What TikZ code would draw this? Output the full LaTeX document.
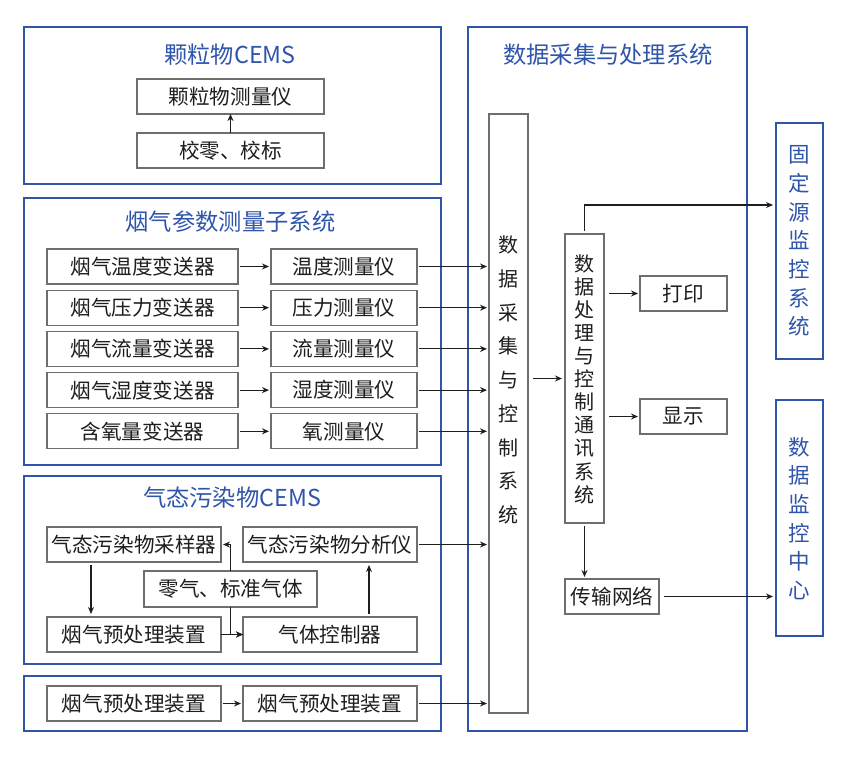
\documentclass[tikz,border=0pt]{standalone}
\usepackage{fontspec}
\setmainfont{Noto Sans CJK SC}
\usetikzlibrary{arrows.meta}
\definecolor{cblue}{RGB}{47,85,170}
\definecolor{cgray}{RGB}{110,110,110}
\definecolor{ctext}{RGB}{30,30,30}
\begin{document}
\begin{tikzpicture}[x=1pt,y=-1pt,
  group/.style={draw=cblue, line width=2.2pt, inner sep=0pt, outer sep=0pt},
  grouptitle/.style={text=cblue, font=\fontsize{23.3}{26}\selectfont, inner sep=0pt},
  box/.style={draw=cgray, line width=1.1pt, fill=white, text=ctext, inner sep=0pt, outer sep=0pt,
              font=\fontsize{20.6}{24}\selectfont},
  vtext/.style={align=center, inner sep=0pt, text=ctext},
  arr/.style={-{Stealth[length=7pt,width=6pt]}, line width=1.1pt, draw=ctext},
]
\useasboundingbox (0,0) rectangle (850,763);

% ---------- group frames ----------
\node[group, minimum width=417pt, minimum height=157pt] (g1) at (232.5,105.5) {};
\node[group, minimum width=417pt, minimum height=267pt] (g2) at (232.5,331.5) {};
\node[group, minimum width=417pt, minimum height=188pt] (g3) at (232.5,570) {};
\node[group, minimum width=417pt, minimum height=55pt]  (g4) at (232.5,703.5) {};
\node[group, minimum width=279pt, minimum height=704pt] (g5) at (607.5,379) {};
\node[group, minimum width=47pt, minimum height=236pt] (fixed) at (799.5,241) {};
\node[group, minimum width=47pt, minimum height=236pt] (center) at (799.5,518) {};

% ---------- titles ----------
\node[grouptitle] (t1) at (230,55) {颗粒物CEMS};
\node[grouptitle] (t2) at (230.5,222) {烟气参数测量子系统};
\node[grouptitle] (t3) at (232,498) {气态污染物CEMS};
\node[grouptitle] (t5) at (608,55) {数据采集与处理系统};

\node[vtext, text=cblue, font=\fontsize{21.5}{28.7}\selectfont] (fixedtxt) at (799.5,241) {固\\定\\源\\监\\控\\系\\统};
\node[vtext, text=cblue, font=\fontsize{21.5}{28.6}\selectfont] (centertxt) at (799.5,518.5) {数\\据\\监\\控\\中\\心};

% ---------- particulate CEMS ----------
\node[box, minimum width=187pt, minimum height=35pt] (b11) at (230.5,96.5) {颗粒物测量仪};
\node[box, minimum width=187pt, minimum height=35pt] (b12) at (230.5,150.5) {校零、校标};
\draw[arr] (b12.north) -- (b11.south);

% ---------- flue gas parameter subsystem ----------
\node[box, minimum width=191pt, minimum height=35pt] (l1) at (142.5,266.5) {烟气温度变送器};
\node[box, minimum width=191pt, minimum height=35pt] (l2) at (142.5,307.7) {烟气压力变送器};
\node[box, minimum width=191pt, minimum height=35pt] (l3) at (142.5,348.9) {烟气流量变送器};
\node[box, minimum width=191pt, minimum height=35pt] (l4) at (142.5,390.1) {烟气湿度变送器};
\node[box, minimum width=191pt, minimum height=35pt] (l5) at (142.5,431.3) {含氧量变送器};
\node[box, minimum width=146pt, minimum height=35pt] (r1) at (344,266.5) {温度测量仪};
\node[box, minimum width=146pt, minimum height=35pt] (r2) at (344,307.7) {压力测量仪};
\node[box, minimum width=146pt, minimum height=35pt] (r3) at (344,348.9) {流量测量仪};
\node[box, minimum width=146pt, minimum height=35pt] (r4) at (344,390.1) {湿度测量仪};
\node[box, minimum width=146pt, minimum height=35pt] (r5) at (344,431.3) {氧测量仪};

% ---------- data acquisition boxes ----------
\node[box, minimum width=39pt, minimum height=599pt] (acq) at (508.5,413.5) {};
\node[vtext, font=\fontsize{20}{33.75}\selectfont] (acqtxt) at (508.5,380) {数\\据\\采\\集\\与\\控\\制\\系\\统};
\node[box, minimum width=39pt, minimum height=289pt] (proc) at (584.5,378.5) {};
\node[vtext, font=\fontsize{20}{23.1}\selectfont] (proctxt) at (584.5,379) {数\\据\\处\\理\\与\\控\\制\\通\\讯\\系\\统};
\node[box, minimum width=87pt, minimum height=35pt] (print) at (683.5,293.5) {打印};
\node[box, minimum width=87pt, minimum height=35pt] (disp) at (683.5,416.5) {显示};
\node[box, minimum width=94pt, minimum height=35pt] (net) at (612,596.5) {传输网络};
\coordinate (fixin) at (776,205);

\foreach \i in {1,...,5}{
  \draw[arr, shorten <=2pt, shorten >=2pt] (l\i.east) -- (r\i.west);
  \draw[arr, shorten <=2pt, shorten >=2pt] (r\i.east) -- (r\i.east -| acq.west);
}

% ---------- gaseous pollutant CEMS ----------
\node[box, minimum width=174pt, minimum height=35pt] (samp) at (134,544.5) {气态污染物采样器};
\node[box, minimum width=174pt, minimum height=35pt] (anal) at (330,544.5) {气态污染物分析仪};
\node[box, minimum width=173pt, minimum height=36pt] (gas) at (230.5,589) {零气、标准气体};
\node[box, minimum width=174pt, minimum height=35pt] (pre) at (134,634.5) {烟气预处理装置};
\node[box, minimum width=174pt, minimum height=35pt] (ctrl) at (330,634.5) {气体控制器};

\draw[arr, shorten <=3pt, shorten >=3pt] (samp.south -| 91,0) -- (pre.north -| 91,0);
\draw[arr, shorten >=2pt] (gas.north) |- (samp.east);
\draw[arr] (gas.south) |- (ctrl.west);
\draw[arr] (pre.east) -- (ctrl.west);
\draw[arr, shorten <=3pt, shorten >=3pt] (ctrl.north -| 369,0) -- (anal.south -| 369,0);
\draw[arr, shorten <=2pt, shorten >=2pt] (anal.east) -- (anal.east -| acq.west);

% ---------- bottom row ----------
\node[box, minimum width=174pt, minimum height=35pt] (p1) at (134,703.5) {烟气预处理装置};
\node[box, minimum width=174pt, minimum height=35pt] (p2) at (330,703.5) {烟气预处理装置};
\draw[arr, shorten <=2pt, shorten >=2pt] (p1.east) -- (p2.west);
\draw[arr, shorten <=2pt, shorten >=2pt] (p2.east) -- (p2.east -| acq.west);

% ---------- processing connectors ----------
\draw[arr, shorten <=5pt, shorten >=3pt] (acq.east |- proc.west) -- (proc.west);
\draw[arr, shorten <=3pt, shorten >=3pt] (proc.north) |- (fixin);
\draw[arr, shorten <=5pt, shorten >=2pt] (proc.east |- print.west) -- (print.west);
\draw[arr, shorten <=5pt, shorten >=2pt] (proc.east |- disp.west) -- (disp.west);
\draw[arr, shorten <=3pt, shorten >=2pt] (proc.south) -- (proc.south |- net.north);
\draw[arr, shorten <=5pt, shorten >=3pt] (net.east) -- (net.east -| center.west);
\end{tikzpicture}
\end{document}
